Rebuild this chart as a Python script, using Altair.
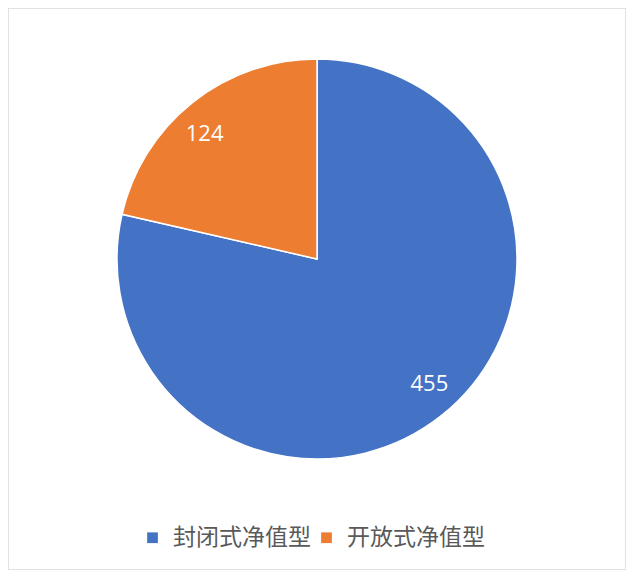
import altair as alt
import pandas as pd

categories = ["封闭式净值型", "开放式净值型"]
values = [455, 124]
colors = ["#4472C4", "#ED7D31"]

df = pd.DataFrame({"cat": categories, "val": values, "ord": [0, 1]})

base = alt.Chart(df).encode(
    theta=alt.Theta("val:Q", stack=True),
    order=alt.Order("ord:Q"),
    x=alt.value(309),
    y=alt.value(251),
)

pie = base.mark_arc(radius=200, stroke="white", strokeWidth=1.5).encode(
    color=alt.Color(
        "cat:N",
        scale=alt.Scale(domain=categories, range=colors),
        sort=categories,
        legend=alt.Legend(
            title=None,
            orient="none",
            legendX=133,
            legendY=518,
            direction="horizontal",
            symbolType="square",
            symbolSize=115,
            symbolStrokeWidth=0,
            labelFontSize=23,
            labelFont="Noto Sans CJK SC",
            labelColor="#595959",
            labelLimit=400,
            labelOffset=9,
            columnPadding=4,
            symbolOffset=0,
        ),
    )
)

labels = base.mark_text(
    radius=168, thetaOffset=-0.06, fontSize=22, color="white", font="Open Sans"
).encode(text=alt.Text("val:Q"))

chart = (
    alt.layer(pie, labels)
    .properties(width=618, height=562, padding=0,
                autosize=alt.AutoSizeParams(type="fit", contains="padding"))
    .configure_view(stroke="#d9d9d9", strokeWidth=1.5)
)

chart.save("out.html", embed_options={"renderer": "svg", "actions": False})
